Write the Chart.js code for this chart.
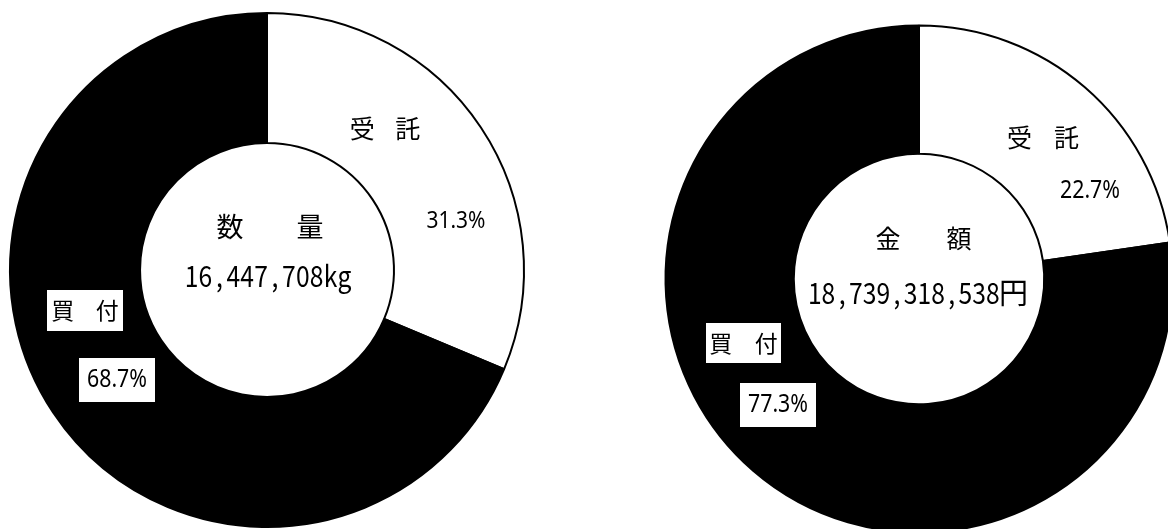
<!DOCTYPE html>
<html><head><meta charset="utf-8">
<script src="https://cdn.jsdelivr.net/npm/chart.js@4"></script>
<style>
html,body{margin:0;padding:0;background:#fff;overflow:hidden;width:1168px;height:529px;position:relative;}
canvas{position:absolute;top:0;}
#c1{left:0;}
#c2{left:659px;}
</style></head><body>
<canvas id="c1" width="534" height="540"></canvas>
<canvas id="c2" width="520" height="558"></canvas>
<script>
const categories = ['受託', '買付'];
const quantityShares = [31.3, 68.7];
const amountShares = [22.7, 77.3];
const quantityTitle = '数量';
const quantityTotal = '16,447,708kg';
const amountTitle = '金額';
const amountTotal = '18,739,318,538円';
const sliceColors = ['#ffffff', '#000000'];

const FONT = '"Noto Sans CJK JP", "Noto Sans", sans-serif';
const IDEO = '\u3000';
function isWide(ch){ return /[^\x00-\x7f]/.test(ch); }
function drawCells(ctx, text, cx, cy, size, half, sx){
  const chars = Array.from(text);
  const total = chars.reduce((s,c)=>s+(isWide(c)?2*half:half),0);
  let x = cx - total/2;
  ctx.save();
  ctx.font = size + 'px ' + FONT;
  ctx.fillStyle = '#000';
  ctx.textAlign = 'center';
  ctx.textBaseline = 'middle';
  for (const c of chars){
    const w = isWide(c) ? 2*half : half;
    ctx.save();
    ctx.translate(x + w/2, cy);
    ctx.scale(isWide(c) ? 1 : sx, 1);
    ctx.fillText(c, 0, 0);
    ctx.restore();
    x += w;
  }
  ctx.restore();
}
function drawFit(ctx, text, cx, cy, size, width){
  ctx.save();
  ctx.font = size + 'px "Noto Sans", ' + FONT;
  ctx.fillStyle = '#000';
  ctx.textAlign = 'center';
  ctx.textBaseline = 'middle';
  const m = ctx.measureText(text).width;
  ctx.translate(cx, cy);
  ctx.scale(width / m, 1);
  ctx.fillText(text, 0, 0);
  ctx.restore();
}

const labelPlugin = {
  id: 'donutLabels',
  afterDraw(chart, args, opts){
    const ctx = chart.ctx;
    const arc = chart.getDatasetMeta(0).data[0];
    const cx = arc.x, cy = arc.y;
    const values = chart.data.datasets[0].data;
    const items = [
      [opts.title.split('').join(IDEO + IDEO), opts.layout.title],
      [opts.total, opts.layout.total],
      [chart.data.labels[0].split('').join(IDEO), opts.layout.cat0],
      [values[0].toFixed(1) + '%', opts.layout.pct0],
      [chart.data.labels[1].split('').join(IDEO), opts.layout.cat1],
      [values[1].toFixed(1) + '%', opts.layout.pct1]
    ];
    for (const [text, L] of items){
      const x = cx + L.dx, y = cy + L.dy;
      if (L.box){
        ctx.save();
        ctx.fillStyle = '#fff';
        ctx.fillRect(x - L.box[0]/2, y - L.box[1]/2, L.box[0], L.box[1]);
        ctx.restore();
      }
      if (L.fit) drawFit(ctx, text, x, y, L.size, L.fit);
      else drawCells(ctx, text, x, y, L.size, L.half, 0.85);
    }
  }
};

function makeChart(id, values, title, total, radius, layout){
  return new Chart(document.getElementById(id), {
    type: 'doughnut',
    data: {
      labels: categories,
      datasets: [{
        data: values,
        backgroundColor: sliceColors,
        borderColor: '#000000',
        borderWidth: 2
      }]
    },
    options: {
      responsive: false,
      animation: false,
      radius: radius,
      cutout: '49.4%',
      layout: {padding: 0},
      plugins: {
        legend: {display: false},
        tooltip: {enabled: false},
        donutLabels: {title: title, total: total, layout: layout}
      }
    },
    plugins: [labelPlugin]
  });
}

makeChart('c1', quantityShares, quantityTitle, quantityTotal, 257, {
  title: {dx: 3, dy: -43, size: 27, half: 13.33},
  total: {dx: 1, dy: 6, size: 29, half: 13.9},
  cat0: {dx: 118, dy: -142, size: 25, half: 11.4},
  pct0: {dx: 189, dy: -49, size: 24, fit: 59},
  cat1: {dx: -182, dy: 40.5, size: 23, half: 11.1, box: [76, 41]},
  pct1: {dx: -150, dy: 110, size: 25, fit: 60, box: [76, 44]}
});
makeChart('c2', amountShares, amountTitle, amountTotal, 253.5, {
  title: {dx: 4.5, dy: -41, size: 25, half: 11.83},
  total: {dx: -1.5, dy: 14, size: 29, half: 13.7},
  cat0: {dx: 124, dy: -142, size: 25, half: 11.75},
  pct0: {dx: 171, dy: -88, size: 25, fit: 60},
  cat1: {dx: -175.5, dy: 64, size: 23, half: 11.4, box: [75, 40]},
  pct1: {dx: -141, dy: 126, size: 25, fit: 60, box: [76, 44]}
});
</script>
</body></html>
